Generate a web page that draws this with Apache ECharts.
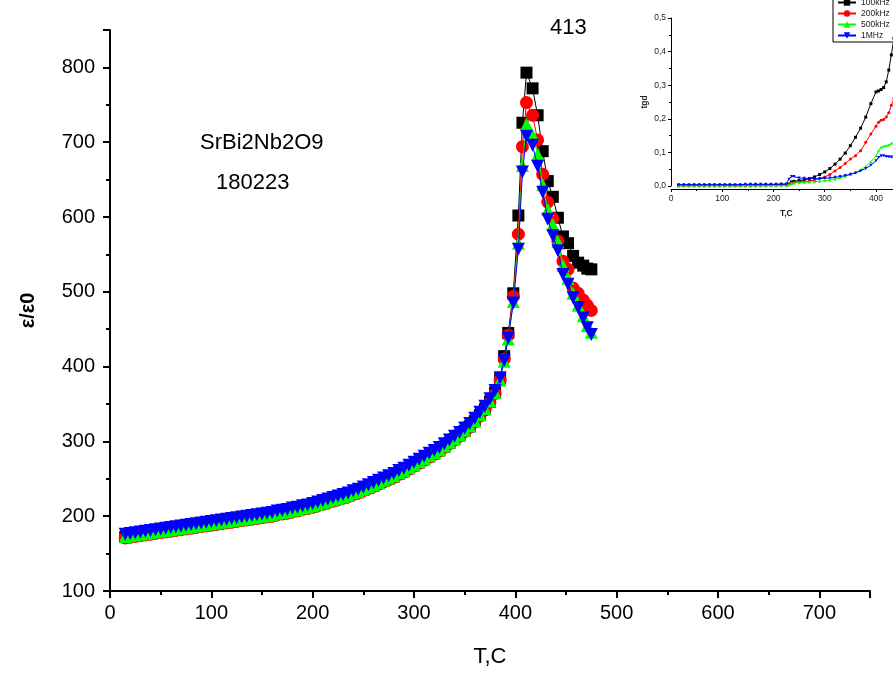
<!DOCTYPE html>
<html>
<head>
<meta charset="utf-8">
<script src="https://cdn.jsdelivr.net/npm/echarts@6/dist/echarts.min.js"></script>
<style>html,body{margin:0;padding:0;background:#fff}#c{width:893px;height:673px}</style>
</head>
<body>
<div id="c"></div>
<script>
// ---- main chart data: temperature (°C) and ε/ε0 for four frequencies ----
const tempMain = [15,20,25,30,35,40,45,50,55,60,65,70,75,80,85,90,95,100,105,110,115,120,125,130,135,140,145,150,155,160,165,170,175,180,185,190,195,200,205,210,215,220,225,230,235,240,245,250,255,260,265,270,275,280,285,290,295,300,305,310,315,320,325,330,335,340,345,350,355,360,365,370,375,380,385,389,393,398,403,407,411,417,422,427,432,437,442,447,452,457,462,467,471,475];
const eps100k = [172,173,174,175,176,177,178,179,180,181,182,183,184,185,186,187,188,189,190,191,192,193,194,195,196,197,198,199,200,201,203,204,205,207,208,210,211,213,215,217,219,221,223,225,227,230,232,235,238,241,244,247,250,253,257,260,264,268,272,276,280,284,288,293,298,303,308,314,320,327,335,343,353,365,384,414,445,498,602,726,793,772,736,688,648,627,599,574,565,548,539,535,531,530];
const eps200k = [171,172,173,174,175,176,177,178,179,180,181,182,183,184,185,186,187,188,189,190,191,192,193,194,195,196,197,198,199,200,202,203,204,206,207,209,210,212,214,216,218,220,222,224,226,229,231,234,237,240,243,246,249,252,256,259,263,267,271,275,279,283,287,292,297,302,307,313,319,326,334,342,352,364,382,410,442,494,577,694,753,736,703,657,620,598,568,541,530,505,498,489,482,475];
const eps500k = [173,174,175,176,177,178,179,180,181,182,183,184,185,186,187,188,189,190,191,192,193,194,195,196,197,198,199,200,201,202,204,205,206,208,209,211,212,214,216,218,220,222,224,226,228,231,233,236,239,242,245,248,251,254,258,261,265,269,273,277,281,285,289,294,299,304,309,315,321,328,336,344,354,365,382,407,437,487,565,669,724,710,684,643,610,590,567,535,518,498,482,468,455,446];
const eps1M = [176,177,178,179,180,181,182,183,184,185,186,187,188,189,190,191,192,193,194,195,196,197,198,199,200,201,202,203,204,205,207,208,209,211,212,214,215,217,219,221,223,225,227,229,231,234,236,239,242,245,248,251,254,257,261,264,268,272,276,280,284,288,292,297,302,307,312,318,324,331,339,347,357,368,385,408,438,485,557,660,708,696,668,633,597,575,555,523,510,492,479,465,452,443];

// ---- inset data: temperature and tg δ ----
const tempInset = [15,25,35,45,55,65,75,85,95,105,115,125,135,145,155,165,175,185,195,205,215,225,230,235,240,250,260,270,280,290,300,310,320,330,340,350,360,370,380,390,400,405,410,415,420,425,430,435];
const tg100k = [0.002,0.002,0.002,0.002,0.002,0.002,0.002,0.002,0.002,0.002,0.002,0.002,0.002,0.002,0.003,0.003,0.003,0.003,0.003,0.003,0.004,0.004,0.006,0.012,0.014,0.016,0.018,0.022,0.027,0.034,0.042,0.052,0.065,0.080,0.098,0.120,0.145,0.172,0.205,0.245,0.280,0.283,0.287,0.293,0.310,0.345,0.390,0.440];
const tg200k = [0.001,0.001,0.001,0.001,0.001,0.001,0.001,0.001,0.001,0.001,0.001,0.001,0.001,0.001,0.001,0.001,0.002,0.002,0.002,0.002,0.002,0.002,0.004,0.008,0.010,0.012,0.013,0.015,0.018,0.022,0.027,0.034,0.045,0.055,0.067,0.080,0.090,0.105,0.130,0.155,0.178,0.190,0.196,0.198,0.205,0.218,0.240,0.260];
const tg500k = [0.000,0.000,0.000,0.000,0.000,0.000,0.000,0.000,0.000,0.000,0.000,0.000,0.000,0.000,0.000,0.000,0.000,0.000,0.001,0.001,0.001,0.001,0.004,0.008,0.009,0.010,0.011,0.012,0.013,0.014,0.016,0.018,0.021,0.025,0.029,0.034,0.040,0.048,0.058,0.072,0.090,0.105,0.115,0.118,0.120,0.122,0.127,0.130];
const tg1M = [0.004,0.004,0.004,0.004,0.004,0.004,0.004,0.004,0.004,0.004,0.004,0.004,0.004,0.005,0.005,0.005,0.005,0.005,0.005,0.005,0.006,0.006,0.020,0.028,0.028,0.024,0.023,0.022,0.022,0.022,0.023,0.024,0.026,0.028,0.031,0.035,0.039,0.045,0.052,0.062,0.075,0.085,0.090,0.090,0.088,0.087,0.086,0.086];

const insetNames = ['100kHz','200kHz','500kHz','1MHz'];
const annotations = ['SrBi2Nb2O9', '180223', '413'];

const zip = (xs, ys) => xs.map((x, i) => [x, ys[i]]);
const FONT = 'Liberation Sans, Arial, sans-serif';

const mainSeries = [
  {data: zip(tempMain, eps100k), color: '#000000', symbol: 'rect', size: 12, rot: 0},
  {data: zip(tempMain, eps200k), color: '#ff0000', symbol: 'circle', size: 13, rot: 0},
  {data: zip(tempMain, eps500k), color: '#00ff00', symbol: 'triangle', size: 13, rot: 0},
  {data: zip(tempMain, eps1M), color: '#0000ff', symbol: 'triangle', size: 13, rot: 180}
].map((s, i) => ({
  type: 'line', xAxisIndex: 0, yAxisIndex: 0, data: s.data,
  symbol: s.symbol, symbolSize: s.size, symbolRotate: s.rot, showAllSymbol: true,
  itemStyle: {color: s.color}, lineStyle: {color: s.color, width: 1}, z: 2 + i, silent: true
}));

const insetData = [tg100k, tg200k, tg500k, tg1M];
const insetColors = ['#000000', '#ff0000', '#00ff00', '#0000ff'];
const insetSymbols = ['rect', 'circle', 'triangle', 'triangle'];
const insetSeries = insetData.map((d, i) => ({
  type: 'line', name: insetNames[i], xAxisIndex: 1, yAxisIndex: 1, data: zip(tempInset, d),
  symbol: insetSymbols[i], symbolSize: 3, symbolRotate: i === 3 ? 180 : 0, showAllSymbol: true,
  itemStyle: {color: insetColors[i]}, lineStyle: {color: insetColors[i], width: 1}, z: 10 + i, silent: true
}));

const axisBase = (w) => ({
  axisLine: {show: true, onZero: false, lineStyle: {color: '#000', width: w}},
  axisTick: {show: true, inside: false, lineStyle: {color: '#000', width: w}},
  minorTick: {show: true, splitNumber: 2, lineStyle: {color: '#000', width: w}},
  splitLine: {show: false}
});

const chart = echarts.init(document.getElementById('c'), null, {renderer: 'canvas'});
chart.setOption({
  animation: false,
  backgroundColor: '#fff',
  grid: [
    {left: 110, top: 30, width: 760, height: 561, outerBoundsMode: 'none', containLabel: false},
    {left: 671, top: 18, width: 230.6, height: 168, outerBoundsMode: 'none', containLabel: false}
  ],
  xAxis: [
    Object.assign(axisBase(2), {
      type: 'value', gridIndex: 0, min: 0, max: 750, interval: 100,
      axisTick: {show: true, length: 7, lineStyle: {color: '#000', width: 2}},
      minorTick: {show: true, splitNumber: 2, length: 4, lineStyle: {color: '#000', width: 2}},
      axisLabel: {color: '#000', fontSize: 20, fontFamily: FONT, margin: 12, showMaxLabel: false},
      name: 'T,C', nameLocation: 'middle', nameGap: 55,
      nameTextStyle: {color: '#000', fontSize: 22, fontFamily: FONT}
    }),
    Object.assign(axisBase(1), {
      type: 'value', gridIndex: 1, min: 0, max: 450, interval: 100, offset: 3,
      axisTick: {show: true, length: 3, lineStyle: {color: '#000', width: 1}},
      minorTick: {show: true, splitNumber: 2, length: 2, lineStyle: {color: '#000', width: 1}},
      axisLabel: {color: '#222', fontSize: 8.5, fontFamily: FONT, margin: 5, showMaxLabel: false},
      name: 'T,C', nameLocation: 'middle', nameGap: 20,
      nameTextStyle: {color: '#222', fontSize: 8.5, fontWeight: 'bold', fontFamily: FONT}
    })
  ],
  yAxis: [
    Object.assign(axisBase(2), {
      type: 'value', gridIndex: 0, min: 100, max: 850, interval: 100,
      axisTick: {show: true, length: 7, lineStyle: {color: '#000', width: 2}},
      minorTick: {show: true, splitNumber: 2, length: 4, lineStyle: {color: '#000', width: 2}},
      axisLabel: {color: '#000', fontSize: 20, fontFamily: FONT, margin: 15, showMaxLabel: false},
      name: 'ε/ε0', nameLocation: 'middle', nameRotate: 90, nameGap: 72,
      nameTextStyle: {color: '#000', fontSize: 20, fontWeight: 'bold', fontFamily: FONT}
    }),
    Object.assign(axisBase(1), {
      type: 'value', gridIndex: 1, min: 0, max: 0.5, interval: 0.1,
      axisTick: {show: true, length: 3, lineStyle: {color: '#000', width: 1}},
      minorTick: {show: true, splitNumber: 2, length: 2, lineStyle: {color: '#000', width: 1}},
      axisLabel: {color: '#222', fontSize: 8.5, fontFamily: FONT, margin: 5,
        formatter: v => v.toFixed(1).replace('.', ',')},
      name: 'tgd', nameLocation: 'middle', nameRotate: 90, nameGap: 22,
      nameTextStyle: {color: '#222', fontSize: 8.5, fontWeight: 'bold', fontFamily: FONT}
    })
  ],
  legend: {
    data: insetNames, orient: 'vertical', left: 833, top: -4,
    padding: [2, 4, 2, 4], itemGap: 2, itemWidth: 18, itemHeight: 8,
    borderColor: '#000', borderWidth: 1, backgroundColor: '#fff',
    textStyle: {fontSize: 8.5, color: '#222', fontFamily: FONT}, selectedMode: false
  },
  graphic: [
    {type: 'text', left: 200, top: 132, style: {text: annotations[0], fontSize: 22, fontFamily: FONT, fill: '#000'}},
    {type: 'text', left: 216, top: 172, style: {text: annotations[1], fontSize: 22, fontFamily: FONT, fill: '#000'}},
    {type: 'text', left: 550, top: 17, style: {text: annotations[2], fontSize: 22, fontFamily: FONT, fill: '#000'}}
  ],
  series: mainSeries.concat(insetSeries)
});
</script>
</body>
</html>
